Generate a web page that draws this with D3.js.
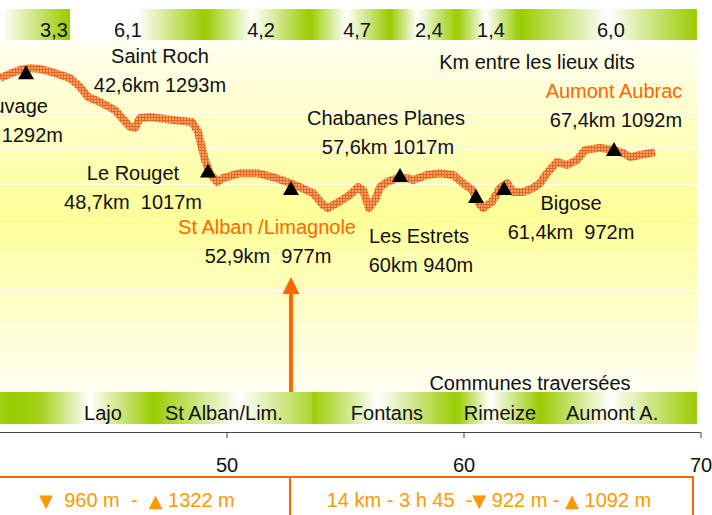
<!DOCTYPE html>
<html>
<head>
<meta charset="utf-8">
<script src="https://cdn.jsdelivr.net/npm/d3@7/dist/d3.min.js"></script>
<style>
body { margin: 0; background: #fff; }
svg { display: block; font-family: "Liberation Sans", Arial, sans-serif; }
text { white-space: pre; }
</style>
</head>
<body>
<svg id="chart" width="712" height="515"></svg>
<script>
// profile of the stage (km, altitude in m)
var profileKm = [40.44, 40.86, 41.29, 41.71, 42.13, 42.76, 43.40, 43.82, 44.16, 44.66,
    45.30, 45.59, 45.93, 46.14, 46.35, 46.77, 47.41, 48.04, 48.54, 48.80,
    48.88, 49.09, 49.30, 49.60, 49.85, 50.57, 51.29, 51.96, 52.55, 53.10,
    53.65, 54.07, 54.28, 54.66, 55.21, 55.55, 55.76, 55.93, 56.01, 56.27,
    56.48, 56.77, 57.19, 57.62, 57.87, 58.46, 59.01, 59.56, 59.98, 60.36,
    60.70, 60.82, 61.20, 61.54, 61.84, 62.09, 62.51, 62.93, 63.23, 63.52,
    63.94, 64.37, 64.79, 65.13, 65.76, 66.31, 66.73, 67.03, 67.45, 68.08];
var profileElev = [1296, 1308, 1319, 1324, 1322, 1310, 1296, 1271, 1243, 1229,
    1206, 1184, 1159, 1156, 1184, 1187, 1181, 1176, 1173, 1145,
    1122, 1066, 1029, 1004, 1015, 1029, 1029, 1018, 1004, 990,
    973, 940, 931, 945, 968, 990, 982, 948, 931, 954,
    990, 1004, 1015, 1015, 1010, 1024, 1029, 1024, 1001, 982,
    940, 931, 948, 987, 1001, 976, 976, 987, 1001, 1029,
    1060, 1052, 1066, 1094, 1100, 1094, 1086, 1074, 1080, 1088];

// triangles on the profile
var markerKm = [41.54, 49.22, 52.72, 57.32, 60.53, 61.71, 66.35];
var markerElev = [1293, 1017, 968, 1004, 945, 968, 1077];

// lieux dits
var placeNames = ["Le Sauvage", "Saint Roch", "Le Rouget", "St Alban /Limagnole", "Chabanes Planes", "Les Estrets", "Bigose", "Aumont Aubrac"];
var placeInfo = ["1292m", "42,6km 1293m", "48,7km  1017m", "52,9km  977m", "57,6km 1017m", "60km 940m", "61,4km  972m", "67,4km 1092m"];
var placeHighlight = [false, false, false, true, false, false, false, true];

// km between places (top band)
var distBounds = [40.02, 43.40, 49.09, 53.52, 56.90, 59.73, 62.38, 69.85];
var distLabels = ["3,3", "6,1", "4,2", "4,7", "2,4", "1,4", "6,0"];
var distLabelKm = [42.72, 45.84, 51.46, 55.51, 58.54, 61.16, 66.22];

// communes (bottom band)
var communeBounds = [38.76, 40.95, 46.90, 53.61, 59.73, 63.23, 69.85];
var communeLabels = ["", "Lajo", "St Alban/Lim.", "Fontans", "Rimeize", "Aumont A."];
var communeLabelKm = [39.8, 44.79, 49.89, 56.77, 61.54, 66.27];

var xTicks = [50, 60, 70];
var gridElev = [400, 500, 600, 700, 800, 900, 1000, 1100, 1200, 1300, 1400];

var statsLeft = "\u25BC  960 m  -  \u25B2 1322 m";
var statsRight = "14 km - 3 h 45  -\u25BC 922 m - \u25B2 1092 m";

// layout of the place labels: [anchor, nameX, nameY, infoX]
var labelLayout = [
    ["end", 48, 113, 63],
    ["middle", 160, 63, 160],
    ["middle", 133, 180, 133],
    ["middle", 267, 234, 268],
    ["middle", 386, 125, 388],
    ["middle", 419, 243, 421],
    ["middle", 571, 210, 571],
    ["middle", 614, 98, 616]
];
// gradient stops per band segment: [offset, green strength]
var distStops = [
    [[0, 0.1], [0.15, 0], [1, 1]],
    [[0, 0], [0.5, 0], [1, 1]],
    [[0, 1], [0.45, 0], [1, 1]],
    [[0, 1], [0.45, 0], [1, 1]],
    [[0, 1], [0.4, 0], [1, 1]],
    [[0, 1], [0.45, 0], [1, 1]],
    [[0, 1], [0.5, 0], [1, 1]]
];
var communeStops = [
    [[0, 0.6], [1, 1]],
    [[0, 1], [0.2, 0.9], [0.55, 0], [1, 1]],
    [[0, 1], [0.55, 0], [1, 0.8]],
    [[0, 1], [0.45, 0], [1, 1]],
    [[0, 1], [0.4, 0], [1, 1]],
    [[0, 1], [0.45, 0], [1, 1]]
];

var green = "#99cc00";
var orange = "#ff6600";
var amber = "#ff9900";
var fontSize = 20;

var svg = d3.select("#chart");
var defs = svg.append("defs");

var x = d3.scaleLinear().domain([50, 70]).range([226.5, 700.5]);
var y = d3.scaleLinear().domain([400, 1400]).range([397.1, 41.1]);

var plotTop = 40, plotBottom = 392, plotRight = 698;

// background
var bg = defs.append("linearGradient").attr("id", "bg").attr("x1", 0).attr("y1", 0).attr("x2", 0).attr("y2", 1);
bg.append("stop").attr("offset", "0").attr("stop-color", "#fffff0");
bg.append("stop").attr("offset", "0.5").attr("stop-color", "#ffff98");
bg.append("stop").attr("offset", "1").attr("stop-color", "#fffff4");
svg.append("rect").attr("x", 0).attr("y", plotTop).attr("width", plotRight).attr("height", plotBottom - plotTop).attr("fill", "url(#bg)");

svg.append("g").selectAll("line").data(gridElev).join("line")
    .attr("x1", 0).attr("x2", plotRight)
    .attr("y1", function (d) { return Math.round(y(d)) + 0.5; })
    .attr("y2", function (d) { return Math.round(y(d)) + 0.5; })
    .attr("stroke", "#ffffff").attr("stroke-width", 1);

function drawBand(id, bounds, stops, top, h) {
    var g = svg.append("g");
    var i = 0;
    while (i < bounds.length - 1) {
        var x0 = x(bounds[i]), x1 = x(bounds[i + 1]);
        var grad = defs.append("linearGradient").attr("id", id + i)
            .attr("gradientUnits", "userSpaceOnUse")
            .attr("x1", x0).attr("x2", x1).attr("y1", 0).attr("y2", 0);
        stops[i].forEach(function (s) {
            grad.append("stop").attr("offset", s[0]).attr("stop-color", d3.interpolateRgb("#ffffff", green)(s[1]));
        });
        g.append("rect").attr("x", x0).attr("y", top).attr("width", x1 - x0).attr("height", h)
            .attr("fill", "url(#" + id + i + ")");
        i++;
    }
    return g;
}

drawBand("dist", distBounds, distStops, 9, 31);
drawBand("comm", communeBounds, communeStops, 392, 32);

svg.append("g").selectAll("text").data(distLabels).join("text")
    .attr("x", function (d, i) { return x(distLabelKm[i]); })
    .attr("y", 37).attr("text-anchor", "middle").attr("font-size", fontSize).attr("fill", "#111")
    .text(function (d) { return d; });
svg.append("g").selectAll("text").data(communeLabels).join("text")
    .attr("x", function (d, i) { return x(communeLabelKm[i]); })
    .attr("y", 420).attr("text-anchor", "middle").attr("font-size", fontSize).attr("fill", "#111")
    .text(function (d) { return d; });

// profile line with its checked texture
var pat = defs.append("pattern").attr("id", "check").attr("patternUnits", "userSpaceOnUse").attr("width", 3).attr("height", 3);
pat.append("rect").attr("width", 3).attr("height", 3).attr("fill", "#e9661c");
pat.append("rect").attr("x", 1).attr("y", 1).attr("width", 2).attr("height", 2).attr("fill", "#f5a56c");

var line = d3.line().x(function (d) { return x(d[0]); }).y(function (d) { return y(d[1]); });
var pts = profileKm.map(function (k, i) { return [k, profileElev[i]]; });
svg.append("path").attr("d", line(pts)).attr("fill", "none")
    .attr("stroke", "url(#check)").attr("stroke-width", 8)
    .attr("stroke-linejoin", "round").attr("stroke-linecap", "butt");

// markers
svg.append("g").selectAll("path").data(markerKm).join("path")
    .attr("d", function (d, i) {
        var cx = x(d), by = y(markerElev[i]);
        return "M" + (cx - 8) + "," + by + "L" + cx + "," + (by - 14) + "L" + (cx + 8) + "," + by + "Z";
    })
    .attr("fill", "#000");

// arrow to St Alban
var ax = x(markerKm[2]);
svg.append("line").attr("x1", ax).attr("x2", ax).attr("y1", 292).attr("y2", plotBottom)
    .attr("stroke", orange).attr("stroke-width", 4);
svg.append("path").attr("d", "M" + (ax - 8.5) + ",294L" + ax + ",277L" + (ax + 8.5) + ",294Z").attr("fill", orange);

// place labels
var lab = svg.append("g").attr("font-size", fontSize);
placeNames.forEach(function (n, i) {
    var l = labelLayout[i];
    lab.append("text").attr("x", l[1]).attr("y", l[2]).attr("text-anchor", l[0])
        .attr("fill", placeHighlight[i] ? orange : "#111").text(n);
    lab.append("text").attr("x", l[3]).attr("y", l[2] + 29).attr("text-anchor", l[0])
        .attr("fill", "#111").text(placeInfo[i]);
});
lab.append("text").attr("x", 537).attr("y", 69).attr("text-anchor", "middle").attr("fill", "#111").text("Km entre les lieux dits");
lab.append("text").attr("x", 530).attr("y", 390).attr("text-anchor", "middle").attr("fill", "#111").text("Communes traversées");

// x axis
var axis = svg.append("g").attr("transform", "translate(0,432)")
    .call(d3.axisBottom(x).tickValues(xTicks).tickSize(6).tickPadding(20).tickFormat(d3.format("d")));
axis.select(".domain").attr("d", "M0,0.5H" + x(70)).attr("stroke", "#444");
axis.selectAll(".tick line").attr("stroke", "#444");
axis.selectAll(".tick text").attr("font-size", fontSize).attr("font-family", "Liberation Sans, Arial, sans-serif").attr("fill", "#111");

// stats box, triangles drawn with a font that has big glyphs for them
function statsText(sel, str) {
    str.split(/([\u25B2\u25BC])/).forEach(function (part) {
        if (!part) return;
        var t = sel.append("tspan").text(part);
        if (part === "\u25B2" || part === "\u25BC") {
            t.attr("font-family", "DejaVu Sans").attr("font-size", 18);
        }
    });
}
var box = svg.append("g");
box.append("path").attr("d", "M0,477H693V520M290,477V520").attr("fill", "none").attr("stroke", orange).attr("stroke-width", 2);
statsText(box.append("text").attr("x", 137).attr("y", 507).attr("text-anchor", "middle").attr("font-size", fontSize).attr("fill", amber), statsLeft);
statsText(box.append("text").attr("x", 489).attr("y", 507).attr("text-anchor", "middle").attr("font-size", fontSize).attr("fill", amber), statsRight);
</script>
</body>
</html>
